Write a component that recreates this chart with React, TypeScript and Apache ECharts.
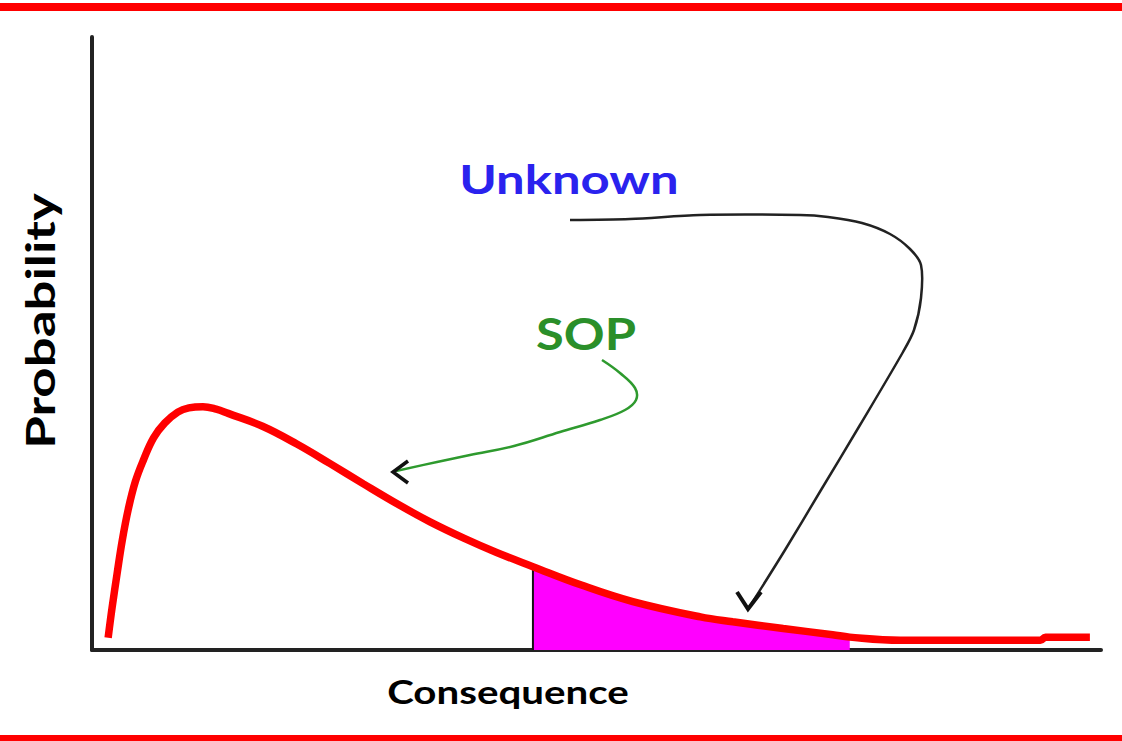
import React, { useEffect, useRef } from "react";
import * as echarts from "echarts";

// Consequence (x) and probability (y) of the skewed distribution curve
const consequence = [1.6, 2.0, 2.5, 3.0, 3.6, 4.3, 5.1, 6.1, 7.2, 8.5, 9.6, 11.0, 12.3, 13.5, 16.9, 20.3, 23.6, 26.9, 30.5, 33.5, 36.9, 40.1, 43.7, 48.5, 53.6, 60.3, 63.5, 68.5, 73.4, 75.1, 80.1, 90.0, 94.0, 94.5, 98.9];
const probability = [2.0, 7.0, 12.6, 17.9, 23.0, 27.5, 31.0, 34.6, 37.0, 38.8, 39.5, 39.7, 39.3, 38.6, 36.5, 33.6, 30.4, 27.1, 23.6, 20.9, 18.2, 15.9, 13.6, 10.6, 7.9, 5.4, 4.6, 3.5, 2.5, 2.1, 1.6, 1.6, 1.6, 2.1, 2.1];

// Shaded tail region (Unknown)
const shadeStart = 43.7;
const shadeEnd = 75.1;

const xAxisName = "Consequence";
const yAxisName = "Probability";
const labelUnknown = "Unknown";
const labelSOP = "SOP";

export default function App() {
  const ref = useRef<HTMLDivElement>(null);

  useEffect(() => {
    document.body.style.margin = "0";
    const chart = echarts.init(ref.current!, null, { renderer: "svg" });

    const curve = consequence.map((x, i) => [x, probability[i]]);
    const shaded = curve.filter(([x]) => x >= shadeStart && x <= shadeEnd);
    const startY = probability[consequence.indexOf(shadeStart)];

    const font = (size: number) => `bold ${size}px Lato`;

    chart.setOption({
      animation: false,
      backgroundColor: "#ffffff",
      grid: { left: 92, right: 21, top: 37, bottom: 91 },
      xAxis: {
        type: "value",
        min: 0,
        max: 100,
        axisLine: { show: true, lineStyle: { color: "#222", width: 4 } },
        axisTick: { show: false },
        axisLabel: { show: false },
        splitLine: { show: false },
      },
      yAxis: {
        type: "value",
        min: 0,
        max: 100,
        axisLine: { show: true, lineStyle: { color: "#222", width: 4 } },
        axisTick: { show: false },
        axisLabel: { show: false },
        splitLine: { show: false },
      },
      series: [
        {
          type: "line",
          data: shaded,
          smooth: 0.4,
          symbol: "none",
          lineStyle: { width: 0 },
          areaStyle: { color: "#ff00ff", opacity: 1 },
          z: 1,
        },
        {
          type: "line",
          data: [
            [shadeStart, 0],
            [shadeStart, startY],
          ],
          symbol: "none",
          lineStyle: { color: "#111", width: 2 },
          z: 2,
        },
        {
          type: "line",
          data: curve,
          smooth: 0.4,
          symbol: "none",
          lineStyle: { color: "#ff0000", width: 7.5 },
          z: 3,
        },
      ],
      graphic: [
        { type: "rect", shape: { x: 0, y: 3, width: 1122, height: 8 }, style: { fill: "#ff0000" } },
        { type: "rect", shape: { x: 0, y: 735, width: 1122, height: 6 }, style: { fill: "#ff0000" } },
        {
          type: "text",
          x: 569,
          y: 179,
          scaleX: 1.27,
          style: { text: labelUnknown, font: font(40), fill: "#2a22ee", align: "center", verticalAlign: "middle" },
        },
        {
          type: "text",
          x: 586,
          y: 333,
          scaleX: 1.15,
          style: { text: labelSOP, font: font(44), fill: "#2a8f2a", align: "center", verticalAlign: "middle" },
        },
        {
          type: "text",
          x: 508,
          y: 692,
          scaleX: 1.26,
          style: { text: xAxisName, font: font(32), fill: "#000", align: "center", verticalAlign: "middle" },
        },
        {
          type: "text",
          x: 40,
          y: 321,
          rotation: Math.PI / 2,
          scaleX: 1.32,
          style: { text: yAxisName, font: font(40), fill: "#000", align: "center", verticalAlign: "middle" },
        },
        // SOP arrow (green)
        {
          type: "polyline",
          shape: {
            points: [
              [602, 360], [620, 373], [635, 388], [636, 400], [625, 410], [600, 420],
              [560, 432], [514, 446], [470, 455], [437, 462], [396, 471],
            ],
            smooth: 0.4,
          },
          style: { stroke: "#2e9a2e", lineWidth: 2.5, fill: "none" },
        },
        {
          type: "polyline",
          shape: { points: [[408, 461], [393, 472], [408, 483]] },
          style: { stroke: "#111", lineWidth: 3.5, fill: "none" },
        },
        // Unknown arrow (black)
        {
          type: "polyline",
          shape: {
            points: [
              [570, 220], [630, 219], [700, 215], [800, 215], [828, 217], [862, 223],
              [890, 234], [910, 249], [921, 265], [921, 298], [914, 330], [903, 352],
              [860, 425], [821, 490], [785, 550], [750, 606],
            ],
            smooth: 0.3,
          },
          style: { stroke: "#222", lineWidth: 2.5, fill: "none" },
        },
        {
          type: "polyline",
          shape: { points: [[737, 592], [748, 609], [761, 592]] },
          style: { stroke: "#111", lineWidth: 4, fill: "none" },
        },
      ],
    });

    return () => chart.dispose();
  }, []);

  return <div ref={ref} style={{ width: 1122, height: 741 }} />;
}
